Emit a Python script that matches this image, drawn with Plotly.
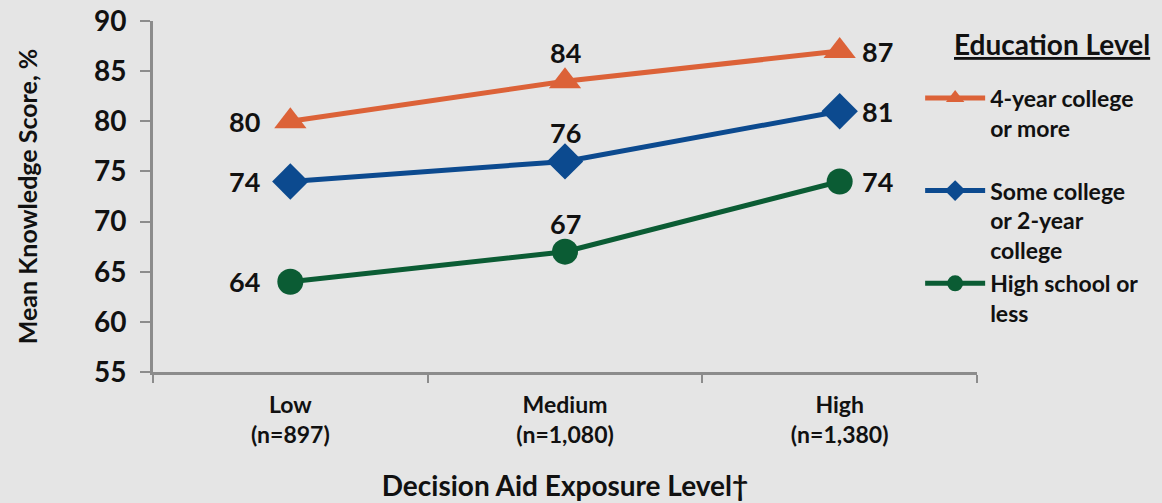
import plotly.graph_objects as go

# Exposure categories (x axis)
exposure_levels = ["Low<br>(n=897)", "Medium<br>(n=1,080)", "High<br>(n=1,380)"]

# Mean knowledge scores by education level
college_4yr = [80, 84, 87]
some_college = [74, 76, 81]
high_school = [64, 67, 74]

series_names = [
    "4-year college<br>or more<br> ",
    "Some college<br>or 2-year<br>college",
    "High school or<br>less",
]
series_colors = ["#DC6238", "#0C4A8F", "#0B5C34"]
series_symbols = ["triangle-up", "diamond", "circle"]

FONT = "Lato"

# value label placement per category: left of Low, above Medium, right of High
label_anchor = [("right", "middle", -28, 0), ("center", "bottom", 0, 10), ("left", "middle", 20, 0)]

fig = go.Figure()
annotations = []
for name, vals, color, sym in zip(series_names,
                                  [college_4yr, some_college, high_school],
                                  series_colors, series_symbols):
    fig.add_trace(go.Scatter(
        x=exposure_levels,
        y=vals,
        name=name,
        mode="lines+markers",
        line=dict(color=color, width=5),
        marker=dict(symbol=sym, size=28 if sym != "circle" else 26, color=color),
        cliponaxis=False,
    ))
    for cat, v, (xa, ya, dx, dy) in zip(exposure_levels, vals, label_anchor):
        annotations.append(dict(
            x=cat, y=v, xref="x", yref="y", text=str(v), showarrow=False,
            xanchor=xa, yanchor=ya, xshift=dx, yshift=dy,
            font=dict(family=FONT, size=27, color="#111111", weight=700),
        ))

annotations.append(dict(
    text="<b><u>Education Level</u></b>",
    xref="paper", yref="paper", x=0.970, y=0.934,
    xanchor="left", yanchor="middle",
    showarrow=False,
    font=dict(family=FONT, size=28, color="#111111"),
))

fig.update_layout(
    width=1162,
    height=503,
    paper_bgcolor="#e5e5e5",
    plot_bgcolor="#e5e5e5",
    margin=dict(l=153, r=185, t=21, b=131, autoexpand=False),
    font=dict(family=FONT, color="#111111", weight=700),
    showlegend=True,
    legend=dict(
        x=0.931, xanchor="left", y=0.842, yanchor="top",
        font=dict(family=FONT, size=23, color="#111111", weight=700),
        valign="top",
        itemwidth=60,
        bgcolor="rgba(0,0,0,0)",
        tracegroupgap=0,
    ),
    xaxis=dict(
        type="category",
        range=[-0.5, 2.5],
        showline=True, linecolor="#8c8c8c", linewidth=3,
        ticks="outside", tickson="boundaries", ticklen=8, tickwidth=2, tickcolor="#8c8c8c",
        showgrid=False, zeroline=False,
        tickfont=dict(family=FONT, size=23, weight=700),
        ticklabelstandoff=10,
        title=dict(text="Decision Aid Exposure Level†", standoff=30,
                   font=dict(family=FONT, size=28, weight=700)),
    ),
    yaxis=dict(
        range=[55, 90],
        dtick=5,
        showline=True, linecolor="#8c8c8c", linewidth=3,
        ticks="outside", ticklen=10, tickwidth=2, tickcolor="#8c8c8c",
        showgrid=False, zeroline=False,
        tickfont=dict(family=FONT, size=28, weight=700),
        ticklabelstandoff=8,
        title=dict(text="Mean Knowledge Score, %", standoff=50,
                   font=dict(family=FONT, size=25, weight=700)),
    ),
    annotations=annotations,
)

fig.write_html("out.html")
